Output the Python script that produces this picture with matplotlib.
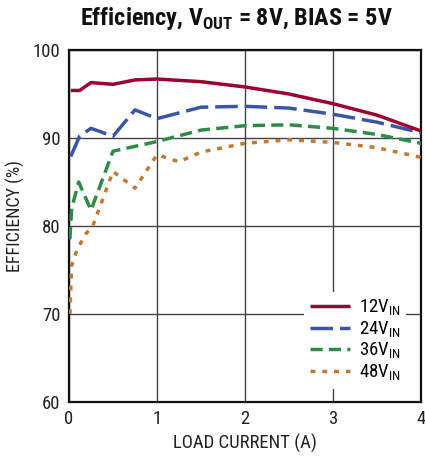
import matplotlib
matplotlib.use("Agg")
import matplotlib.pyplot as plt

FONT = ['Roboto Condensed', 'DejaVu Sans']
plt.rcParams['font.family'] = FONT
plt.rcParams['mathtext.fontset'] = 'custom'
plt.rcParams['mathtext.rm'] = 'Roboto Condensed'
plt.rcParams['mathtext.bf'] = 'Roboto Condensed:bold'

# Data
x12 = [0.02, 0.12, 0.25, 0.5, 0.75, 1.0, 1.5, 2.0, 2.5, 3.0, 3.5, 4.0]
y12 = [95.4, 95.4, 96.3, 96.1, 96.6, 96.7, 96.4, 95.8, 95.0, 93.9, 92.6, 90.8]
x24 = [0.02, 0.12, 0.25, 0.5, 0.75, 1.0, 1.5, 2.0, 2.5, 3.0, 3.5, 4.0]
y24 = [87.9, 90.2, 91.1, 90.2, 93.2, 92.2, 93.5, 93.6, 93.4, 92.7, 91.8, 90.6]
x36 = [0.01, 0.03, 0.11, 0.25, 0.5, 1.0, 1.5, 2.0, 2.5, 3.0, 3.5, 4.0]
y36 = [78.5, 82.0, 85.0, 81.8, 88.5, 89.6, 90.9, 91.4, 91.5, 91.1, 90.4, 89.4]
x48 = [0.01, 0.03, 0.08, 0.18, 0.27, 0.5, 0.75, 1.0, 1.25, 1.5, 2.0, 2.5, 3.0, 3.5, 4.0]
y48 = [70.0, 75.5, 77.0, 79.0, 80.0, 86.2, 84.3, 88.1, 87.3, 88.4, 89.4, 89.8, 89.5, 88.9, 87.8]
labels = [r'12V$_{\mathregular{IN}}$', r'24V$_{\mathregular{IN}}$',
          r'36V$_{\mathregular{IN}}$', r'48V$_{\mathregular{IN}}$']
xticks = [0, 1, 2, 3, 4]
yticks = [60, 70, 80, 90, 100]

fig = plt.figure(figsize=(4.25, 4.58), dpi=100)
ax = fig.add_axes([69/425, 56/458, 352/425, 352/458])

lw = 2.5
ax.plot(x12, y12, color='#9A0030', lw=lw, solid_capstyle='butt', label=labels[0], zorder=4)
ax.plot(x24, y24, color='#3A55A5', lw=lw, dashes=(6.5, 2.0), label=labels[1], zorder=3)
ax.plot(x36, y36, color='#2E8B4A', lw=lw, dashes=(3.5, 1.8), label=labels[2], zorder=3)
ax.plot(x48, y48, color='#C07A35', lw=lw, dashes=(1.4, 2.0), label=labels[3], zorder=3)

ax.set_xlim(0, 4)
ax.set_ylim(60, 100)
ax.set_xticks(xticks)
ax.set_yticks(yticks)
ax.tick_params(length=0, labelsize=13.5, colors='#222222', pad=6)
ax.grid(True, color='#444444', lw=1.0, zorder=1)
ax.set_axisbelow(True)
for s in ax.spines.values():
    s.set_linewidth(1.6)
    s.set_color('#111111')

ax.set_xlabel('LOAD CURRENT (A)', fontsize=13.5, color='#222222', labelpad=4)
ax.set_ylabel('EFFICIENCY (%)', fontsize=13, color='#222222')
ax.yaxis.set_label_coords(-0.125, 0.528)
fig.text(236/425, 1 - 18/458, r'Efficiency, V$_{\mathregular{OUT}}$ = 8V, BIAS = 5V',
         ha='center', va='center', fontsize=17.5, fontweight='bold', color='#111111')

leg = ax.legend(loc='upper left', bbox_to_anchor=(0.668, 0.313), frameon=True,
                fontsize=13.5, handlelength=2.13, handletextpad=0.48,
                labelspacing=0.08, borderpad=0.3, borderaxespad=0.0, fancybox=False)
leg.get_frame().set_edgecolor('none')
leg.get_frame().set_facecolor('white')
leg.get_frame().set_alpha(1.0)
leg.set_zorder(5)

fig.savefig('out.png', dpi=100)
